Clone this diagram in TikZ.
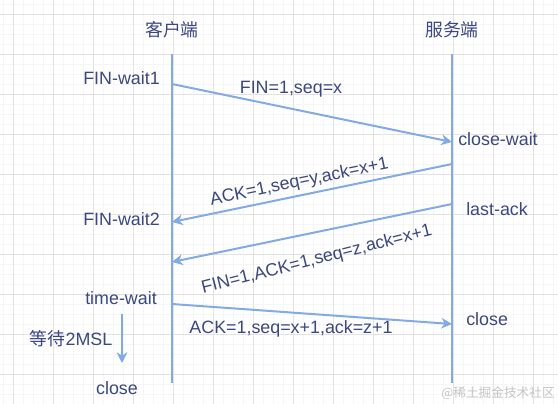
\documentclass[tikz,border=0pt]{standalone}
\usepackage{fontspec}
\setmainfont{Liberation Sans}
\newfontfamily\cjkfont{Noto Sans CJK SC}
\usetikzlibrary{
    arrows.meta,
    positioning
}
\definecolor{linecolor}{HTML}{82AAE6}
\definecolor{statecolor}{HTML}{3A4780}
\definecolor{gridcolor}{HTML}{E2E2E2}
\definecolor{subgridcolor}{HTML}{F6F6F6}
\definecolor{markcolor}{HTML}{C4C4C4}
\tikzset{
    lifeline/.style={
        draw=linecolor, line width=1.5pt
    },
    message/.style={
        -{Stealth[length=8pt, width=8pt, inset=2.5pt]},
        draw=linecolor, line width=1.5pt
    },
    state/.style={
        font=\fontsize{13.4}{15}\selectfont, text=statecolor,
        inner sep=0pt
    },
    msglabel/.style={
        state
    },
}

\begin{document}
\begin{tikzpicture}[x=0.75pt, y=-0.75pt]
    \useasboundingbox (0,0) rectangle (558,404);
    % grid
    \foreach \x in {3,13,...,553}
        \draw[subgridcolor, line width=0.5pt] (\x,0) -- (\x,404);
    \foreach \y in {4,14,...,404}
        \draw[subgridcolor, line width=0.5pt] (0,\y) -- (558,\y);
    \foreach \x in {13,53,...,533}
        \draw[gridcolor, line width=0.75pt] (\x,0) -- (\x,404);
    \foreach \y in {14,54,...,374}
        \draw[gridcolor, line width=0.75pt] (0,\y) -- (558,\y);

    % lifelines
    \coordinate (ctop) at (172,54);
    \coordinate (cbot) at (172,383);
    \coordinate (stop) at (452,54);
    \coordinate (sbot) at (452,383);
    \draw[lifeline] (ctop) -- (cbot);
    \draw[lifeline] (stop) -- (sbot);

    \node[state, above=11.5pt of ctop] (client) {\cjkfont 客户端};
    \node[state, above=11.5pt of stop] (server) {\cjkfont 服务端};

    % message ends
    \coordinate (c1) at (172,84);
    \coordinate (s1) at (452,142);
    \coordinate (s2) at (452,164);
    \coordinate (c2) at (172,222);
    \coordinate (s3) at (452,204);
    \coordinate (c3) at (172,262);
    \coordinate (c4) at (172,304);
    \coordinate (s4) at (452,324);

    % states
    \node[state, anchor=east] (fw1) at (160,78) {FIN-wait1};
    \node[state, anchor=west] (cw) at (458,139) {close-wait};
    \node[state, anchor=east] (fw2) at (160,219) {FIN-wait2};
    \node[state, anchor=west] (la) at (466,209) {last-ack};
    \node[state, anchor=east] (tw) at (157,298) {time-wait};
    \node[state, anchor=west] (sclose) at (466,319) {close};
    \node[state] (cclose) at (117,388) {close};

    \draw[message] (c1) -- (s1)
        node[msglabel, pos=0.425, above=8pt] (m1) {FIN=1,seq=x};
    \draw[message] (s2) -- (c2)
        node[msglabel, pos=0.536, sloped, above=2.8pt] (m2) {ACK=1,seq=y,ack=x+1};
    \draw[message] (s3) -- (c3)
        node[msglabel, pos=0.504, sloped, rotate=2.5, below=13.5pt] (m3) {FIN=1,ACK=1,seq=z,ack=x+1};
    \draw[message] (c4) -- (s4)
        node[msglabel, pos=0.425, below=5.6pt] (m4) {ACK=1,seq=x+1,ack=z+1};

    % 2MSL wait
    \coordinate (w1) at (122,314);
    \coordinate (w2) at (122,363);
    \draw[message] (w1) -- (w2)
        node[state, midway, left=6.5pt] (wait) {{\cjkfont 等待}2MSL};

    \node[anchor=east, inner sep=0pt, text=markcolor,
          font=\cjkfont\fontsize{9.5}{11}\selectfont] (mark) at (555,393) {@稀土掘金技术社区};
\end{tikzpicture}
\end{document}
